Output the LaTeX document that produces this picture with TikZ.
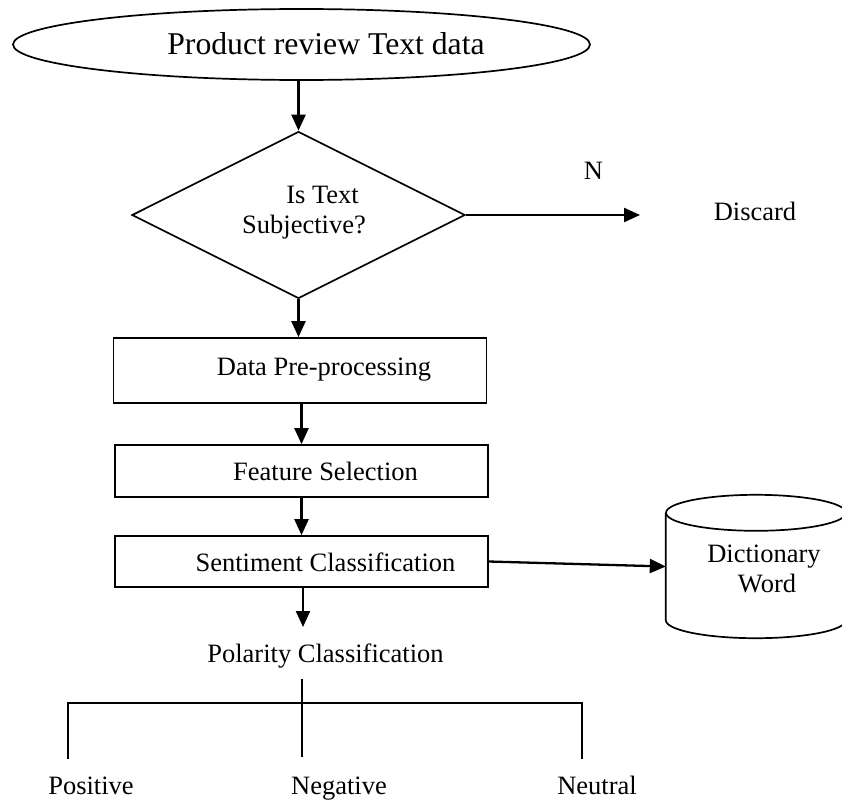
\documentclass[tikz,border=0pt]{standalone}
\usepackage{fontspec}
\setmainfont{Liberation Serif}
\usetikzlibrary{shapes.geometric,arrows.meta}
\begin{document}
\begin{tikzpicture}[x=1pt,y=-1pt,
  txt/.style={font=\fontsize{26.5}{31}\selectfont, inner sep=0pt, anchor=base},
  boxnode/.style={draw, line width=1.7pt, minimum width=373pt, inner sep=0pt},
  arr/.style={line width=2.3pt, -{Triangle[length=16pt,width=14pt]}},
  thinline/.style={line width=1.7pt}]
\useasboundingbox (0,0) rectangle (842,800);
\clip (0,0) rectangle (842,800);

% start ellipse
\node[draw, ellipse, line width=1.7pt, minimum width=577pt, minimum height=71pt, inner sep=0pt] (title) at (301.5,44.5) {};
\node[font=\fontsize{31.7}{36}\selectfont, inner sep=0pt, anchor=base] (titletxt) at (326,55) {Product review Text data};

% decision
\node[draw, diamond, line width=1.7pt, minimum width=333pt, minimum height=167pt, inner sep=0pt, shape aspect=2] (dec) at (298.5,215) {};
\node[txt] (dec1) at (322.5,203) {Is Text};
\node[txt] (dec2) at (304,233) {Subjective?};

% N / discard
\coordinate (dend) at (640,215);
\node[txt] (nlab) at (593.5,179) {N};
\node[txt] (discard) at (755,220) {Discard};

% boxes
\node[boxnode, minimum height=65pt] (b1) at (300,370.5) {};
\node[txt] (b1t) at (324,375) {Data Pre-processing};
\node[boxnode, minimum height=52pt] (b2) at (301.5,471) {};
\node[txt] (b2t) at (325.5,480) {Feature Selection};
\node[boxnode, minimum height=51pt] (b3) at (301.5,561.5) {};
\node[txt] (b3t) at (325.5,571) {Sentiment Classification};

% dictionary cylinder (cut by the right edge)
\node[minimum width=180pt, minimum height=107pt, inner sep=0pt] (dict) at (756,566.5) {};
\draw[thinline] (dict.north) ellipse [x radius=90pt, y radius=18pt];
\draw[thinline] (dict.north west) -- (dict.south west)
  arc [start angle=180, end angle=360, x radius=90pt, y radius=18pt] -- (dict.north east);
\node[txt] (dict1) at (764,562) {Dictionary};
\node[txt] (dict2) at (767,592) {Word};

% polarity
\coordinate (polin) at (303,627);
\node[txt] (pol) at (325.5,662) {Polarity Classification};
\coordinate (ptop) at (302,679);
\coordinate (pbot) at (302,757);
\coordinate (lt) at (68,703);
\coordinate (lb) at (68,759);
\coordinate (rt) at (582,703);
\coordinate (rb) at (582,759);
\node[txt] (pos) at (91,794) {Positive};
\node[txt] (neg) at (339,794) {Negative};
\node[txt] (neu) at (597,794) {Neutral};

% connectors
\draw[arr] (dec.north |- title.south) -- (dec.north);
\draw[arr] (dec.east) -- (dend);
\draw[arr] (dec.south) -- (dec.south |- b1.north);
\draw[arr] (b2.north |- b1.south) -- (b2.north);
\draw[arr] (b2.south) -- (b3.north);
\draw[arr] (b3.east) -- (dict.west);
\draw[arr] (b3.south -| polin) -- (polin);
\draw[thinline] (ptop) -- (pbot);
\draw[thinline] (lb) -- (lt) -- (rt) -- (rb);
\end{tikzpicture}
\end{document}
